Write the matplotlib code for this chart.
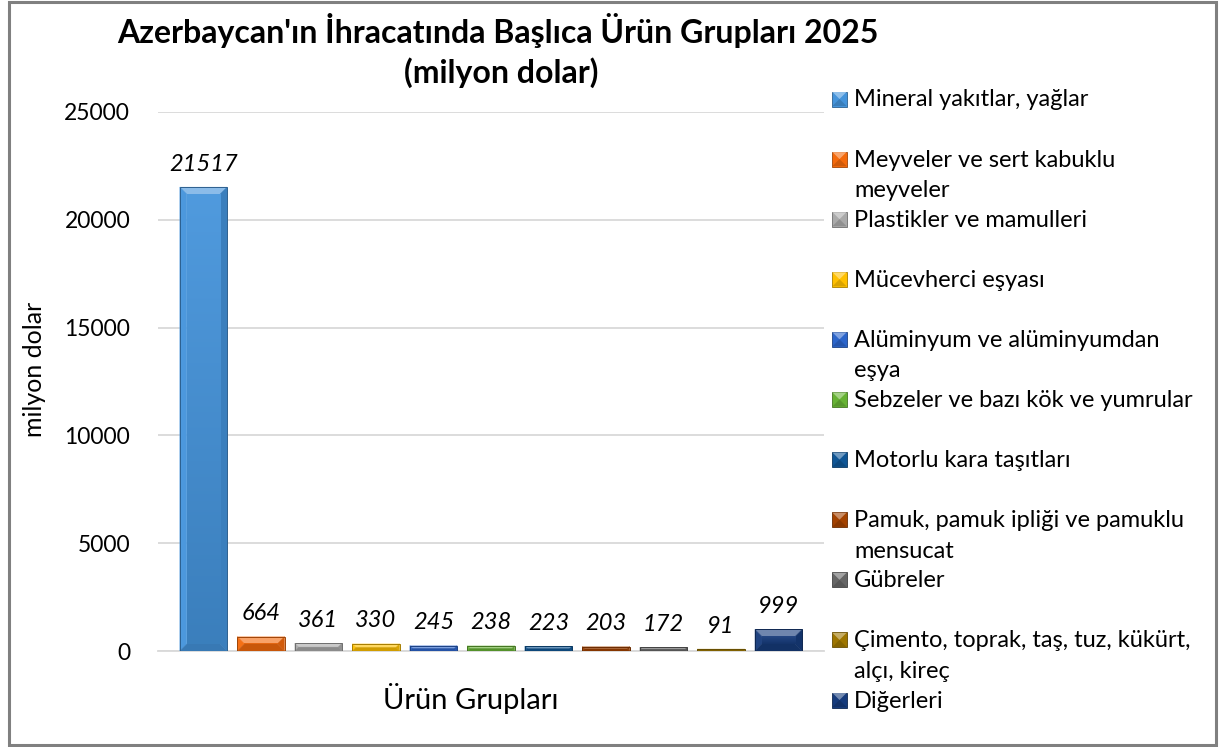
import matplotlib
matplotlib.use("Agg")
import matplotlib.pyplot as plt
from matplotlib.patches import Polygon, Rectangle
import matplotlib.colors as mcolors
import colorsys
import numpy as np

plt.rcParams['font.family'] = ['Lato', 'DejaVu Sans']

title_lines = ["Azerbaycan'ın İhracatında Başlıca Ürün Grupları 2025", "(milyon dolar)"]
categories = [
    "Mineral yakıtlar, yağlar",
    "Meyveler ve sert kabuklu\nmeyveler",
    "Plastikler ve mamulleri",
    "Mücevherci eşyası",
    "Alüminyum ve alüminyumdan\neşya",
    "Sebzeler ve bazı kök ve yumrular",
    "Motorlu kara taşıtları",
    "Pamuk, pamuk ipliği ve pamuklu\nmensucat",
    "Gübreler",
    "Çimento, toprak, taş, tuz, kükürt,\nalçı, kireç",
    "Diğerleri",
]
values = [21517, 664, 361, 330, 245, 238, 223, 203, 172, 91, 999]
colors = ["#5B9BD5", "#ED7D31", "#A5A5A5", "#FFC000", "#4472C4", "#70AD47",
          "#255E91", "#9E480E", "#636363", "#997300", "#264478"]
yticks = [0, 5000, 10000, 15000, 20000, 25000]
xlabel = "Ürün Grupları"
ylabel = "milyon dolar"

W, H = 1219, 747
fig = plt.figure(figsize=(W / 100, H / 100), dpi=100)
fig.patch.set_facecolor("white")

ax_l, ax_r, ax_t, ax_b = 158, 824, 112, 651
ax = fig.add_axes([ax_l / W, 1 - ax_b / H, (ax_r - ax_l) / W, (ax_b - ax_t) / H])
n = len(values)
xs = np.arange(n)
xlim = (-0.79, n - 1 + 0.79)
ylim = (0, 25000)

sx = (xlim[1] - xlim[0]) / (ax_r - ax_l)   # data per px
sy = (ylim[1] - ylim[0]) / (ax_b - ax_t)


def mix(c, other, t):
    a = np.array(mcolors.to_rgb(c))
    b = np.array(mcolors.to_rgb(other))
    return tuple(a * (1 - t) + b * t)


def vivid(c, s_mult=1.2, v_mult=1.03):
    r, g, b = mcolors.to_rgb(c)
    h, s, v = colorsys.rgb_to_hsv(r, g, b)
    return colorsys.hsv_to_rgb(h, min(1, s * s_mult), min(1, v * v_mult))


def bevel(axis, x0, y0, w, h, color, d, sxu, syu, z=3):
    """Bevelled rectangle; w,h in data units (positive), d in pixels."""
    hpx = h / syu
    wpx = w / sxu
    dd = min(d, hpx / 2.0, wpx / 2.0)
    dx, dy = dd * sxu, dd * syu
    x1, y1 = x0 + w, y0 + h
    ix0, ix1, iy0, iy1 = x0 + dx, x1 - dx, y0 + dy, y1 - dy
    vc = vivid(color)
    top = mix(vc, "white", 0.38)
    left = mix(vc, "white", 0.04)
    right = mix(vc, "black", 0.14)
    bottom = mix(vc, "black", 0.18)
    polys = [
        ([(x0, y1), (x1, y1), (ix1, iy1), (ix0, iy1)], top),
        ([(x0, y0), (x0, y1), (ix0, iy1), (ix0, iy0)], left),
        ([(x1, y0), (x1, y1), (ix1, iy1), (ix1, iy0)], right),
        ([(x0, y0), (x1, y0), (ix1, iy0), (ix0, iy0)], bottom),
    ]
    for pts, c in polys:
        axis.add_patch(Polygon(pts, closed=True, facecolor=c, edgecolor=c,
                               linewidth=0.3, zorder=z))
    # vertical gradient face
    c_top = np.array(mix(vc, "white", 0.06))
    c_bot = np.array(mix(vc, "black", 0.14))
    t = np.linspace(0, 1, 64)[:, None]
    grad = (c_top[None, :] * (1 - t) + c_bot[None, :] * t)[:, None, :]
    axis.imshow(grad, extent=(ix0, ix1, iy0, iy1), origin="upper",
                aspect="auto", interpolation="bilinear", zorder=z)
    axis.add_patch(Rectangle((x0, y0), w, h, facecolor="none",
                             edgecolor=mix(vc, "black", 0.35),
                             linewidth=0.7, zorder=z + 0.1))


bw = 0.82
ax.bar(xs, values, width=bw, color=colors, alpha=0)
for x, v, c in zip(xs, values, colors):
    bevel(ax, x - bw / 2, 0, bw, v, c, 7, sx, sy)
    ax.annotate(f"{v}", (x, v), xytext=(0, 9), textcoords="offset points",
                ha="center", va="bottom", fontsize=17, style="italic",
                color="black", zorder=5)

ax.set_xlim(*xlim)
ax.set_ylim(*ylim)
ax.set_aspect("auto")
ax.set_facecolor("none")
ax.set_yticks(yticks)
ax.set_yticklabels([str(t) for t in yticks], fontsize=16.5, color="black")
ax.set_xticks([])
ax.tick_params(axis="y", length=0, pad=20)
ax.grid(axis="y", color="#D9D9D9", linewidth=1.3, zorder=0)
ax.set_axisbelow(True)
for s in ["left", "right", "top"]:
    ax.spines[s].set_visible(False)
ax.spines["bottom"].set_color("#D9D9D9")
ax.spines["bottom"].set_linewidth(1.3)

fig.text(498 / W, 1 - 30 / H, title_lines[0], ha="center", va="center",
         fontsize=23, fontweight="bold")
fig.text(501 / W, 1 - 73 / H, title_lines[1], ha="center", va="center",
         fontsize=23, fontweight="bold")
fig.text(471 / W, 1 - 698 / H, xlabel, ha="center", va="center", fontsize=21)
fig.text(35 / W, 1 - 369 / H, ylabel, ha="center", va="center",
         fontsize=18, rotation=90)

# overlay in pixel coordinates for legend and border
ov = fig.add_axes([0, 0, 1, 1])
ov.set_xlim(0, W)
ov.set_ylim(H, 0)
ov.axis("off")
ov.set_facecolor("none")
m = 15.0
for i, (lab, c) in enumerate(zip(categories, colors)):
    vc = vivid(c)
    yc = 99 + 60.1 * i
    x0, x1 = 832, 832 + m
    y0, y1 = yc - m / 2, yc + m / 2  # y0 is top (inverted axis)
    cx, cy = (x0 + x1) / 2, yc
    ov.add_patch(Polygon([(x0, y0), (x1, y0), (x1, y1), (x0, y1)], closed=True,
                         facecolor=vc, edgecolor=mix(vc, "black", 0.35),
                         linewidth=0.6, zorder=4))
    ov.add_patch(Polygon([(x0 + 0.5, y0 + 0.5), (x1 - 0.5, y0 + 0.5), (cx, cy)],
                         closed=True, facecolor=mix(vc, "white", 0.4),
                         edgecolor="none", zorder=4.1))
    ov.add_patch(Polygon([(x0 + 0.5, y1 - 0.5), (x1 - 0.5, y1 - 0.5), (cx, cy)],
                         closed=True, facecolor=mix(vc, "black", 0.15),
                         edgecolor="none", zorder=4.1))
    for j, line in enumerate(lab.split("\n")):
        ov.text(854, yc + 7.5 + 30.5 * j, line, ha="left", va="baseline",
                fontsize=17, color="black")

ov.add_patch(Rectangle((9, 2), 1207, 743, facecolor="none",
                       edgecolor="#808080", linewidth=2.2, zorder=10))

fig.savefig("out.png", dpi=100, facecolor="white")
